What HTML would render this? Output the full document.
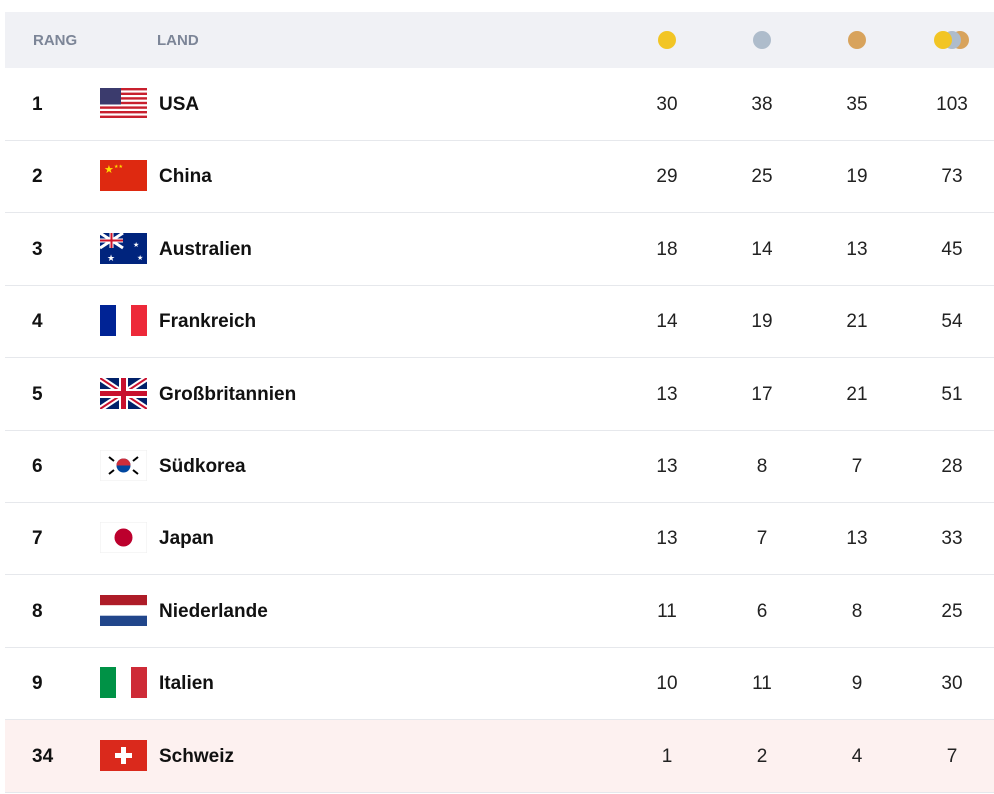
<!DOCTYPE html>
<html><head><meta charset="utf-8"><style>
body{margin:0;background:#fff;width:994px;height:794px;overflow:hidden;font-family:"Liberation Sans","DejaVu Sans",sans-serif;}
.hdr{position:absolute;left:5px;top:12px;width:989px;height:56px;background:#f0f1f5;}
.h{position:absolute;top:32px;font-size:15px;font-weight:bold;color:#7c8597;}
.dot{position:absolute;width:18px;height:18px;border-radius:50%;top:31px;}
.row{position:absolute;left:5px;width:989px;height:72px;border-bottom:1px solid #e6e8ec;}
.rk{position:absolute;left:27px;top:26px;font-size:19px;font-weight:bold;color:#111;}
.fl{position:absolute;left:95px;top:20px;width:47px;height:31px;}
.nm{position:absolute;left:154px;top:26px;font-size:19px;font-weight:bold;color:#111;}
.n{position:absolute;top:26px;font-size:19px;color:#222;width:60px;text-align:center;}
</style></head><body>
<div class="hdr"></div>
<div class="h" style="left:33px">RANG</div>
<div class="h" style="left:157px">LAND</div>
<div class="dot" style="left:658px;background:#f2c524"></div>
<div class="dot" style="left:753px;background:#aebccb"></div>
<div class="dot" style="left:848px;background:#d8a35c"></div>
<div class="dot" style="left:951px;background:#d8a35c"></div>
<div class="dot" style="left:943px;background:#aebccb"></div>
<div class="dot" style="left:934px;background:#f2c524"></div>

<div id="rows"></div>
<script>
const flags={
usa:'<svg width="47" height="31"><rect width="47" height="31" fill="#fff"/>'+[0,1,2,3,4,5,6].map(i=>`<rect y="${i*4.6}" width="47" height="2.4" fill="#c8202e"/>`).join('')+'<rect width="21" height="16.5" fill="#3b3b6d"/></svg>',
cn:'<svg width="47" height="31"><rect width="47" height="31" fill="#de2910"/><text x="4" y="13" font-size="11" fill="#ffde00">★</text><text x="14" y="8" font-size="5" fill="#ffde00">★★</text></svg>',
au:'<svg width="47" height="31"><rect width="47" height="31" fill="#00247d"/><path d="M0 0L23 15M23 0L0 15" stroke="#fff" stroke-width="3"/><path d="M11.5 0V15M0 7.5H23" stroke="#fff" stroke-width="4"/><path d="M11.5 0V15M0 7.5H23" stroke="#cf142b" stroke-width="2"/><text x="7" y="28" font-size="9" fill="#fff">★</text><text x="33" y="14" font-size="7" fill="#fff">★</text><text x="37" y="27" font-size="7" fill="#fff">★</text></svg>',
fr:'<svg width="47" height="31"><rect width="16" height="31" fill="#002395"/><rect x="16" width="15" height="31" fill="#fff"/><rect x="31" width="16" height="31" fill="#ed2939"/></svg>',
gb:'<svg width="47" height="31"><rect width="47" height="31" fill="#012169"/><path d="M0 0L47 31M47 0L0 31" stroke="#fff" stroke-width="6"/><path d="M0 0L47 31M47 0L0 31" stroke="#c8102e" stroke-width="2"/><path d="M23.5 0V31M0 15.5H47" stroke="#fff" stroke-width="9"/><path d="M23.5 0V31M0 15.5H47" stroke="#c8102e" stroke-width="5"/></svg>',
kr:'<svg width="47" height="31"><rect width="47" height="31" fill="#fff" stroke="#eee"/><circle cx="23.5" cy="15.5" r="7" fill="#0047a0"/><path d="M16.5 15.5A7 7 0 0 1 30.5 15.5Z" fill="#cd2e3a"/><g stroke="#000" stroke-width="2"><path d="M9 7l5 4M33 20l5 4M33 11l5-4M9 24l5-4"/></g></svg>',
jp:'<svg width="47" height="31"><rect width="47" height="31" fill="#fff" stroke="#eee"/><circle cx="23.5" cy="15.5" r="9" fill="#bc002d"/></svg>',
nl:'<svg width="47" height="31"><rect width="47" height="10.3" fill="#ae1c28"/><rect y="10.3" width="47" height="10.4" fill="#fff"/><rect y="20.7" width="47" height="10.3" fill="#21468b"/></svg>',
it:'<svg width="47" height="31"><rect width="16" height="31" fill="#009246"/><rect x="16" width="15" height="31" fill="#fff"/><rect x="31" width="16" height="31" fill="#ce2b37"/></svg>',
ch:'<svg width="47" height="31"><rect width="47" height="31" fill="#da291c"/><path d="M23.5 7V24M15 15.5H32" stroke="#fff" stroke-width="5"/></svg>'};
const d=[["1","usa","USA",30,38,35,103],["2","cn","China",29,25,19,73],["3","au","Australien",18,14,13,45],["4","fr","Frankreich",14,19,21,54],["5","gb","Großbritannien",13,17,21,51],["6","kr","Südkorea",13,8,7,28],["7","jp","Japan",13,7,13,33],["8","nl","Niederlande",11,6,8,25],["9","it","Italien",10,11,9,30],["34","ch","Schweiz",1,2,4,7]];
let h='';d.forEach((r,i)=>{const top=68+i*72.4;
h+=`<div class="row" style="top:${top}px;${i==9?'background:#fdf1f0;':''}"><div class="rk">${r[0]}</div><div class="fl">${flags[r[1]]}</div><div class="nm">${r[2]}</div>`+
[r[3],r[4],r[5],r[6]].map((v,j)=>`<div class="n" style="left:${632+j*95}px">${v}</div>`).join('')+'</div>';});
document.getElementById('rows').innerHTML=h;
</script>
</body></html>
